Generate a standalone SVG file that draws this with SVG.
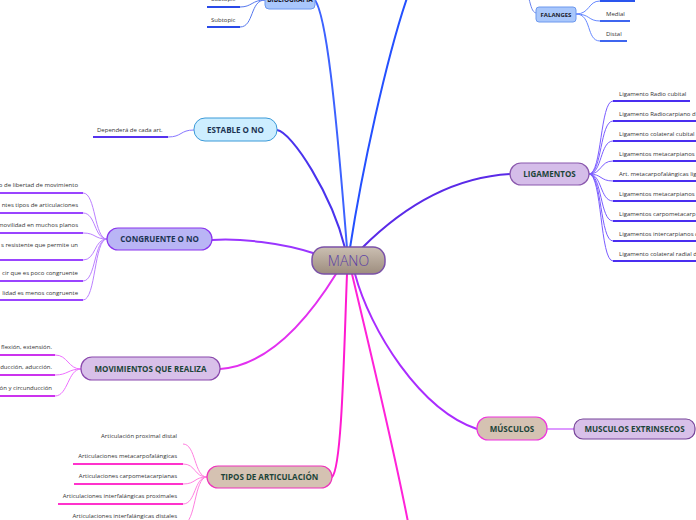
<svg xmlns="http://www.w3.org/2000/svg" width="696" height="520" viewBox="0 0 696 520">
<defs>
<linearGradient id="gMano" x1="0" y1="0" x2="0" y2="1">
<stop offset="0" stop-color="#cbbfb2"/>
<stop offset="1" stop-color="#9d8d7e"/>
</linearGradient>
<style>
.t{font-family:"Open Sans","Noto Sans",sans-serif;font-weight:bold;font-size:8px;fill:#1c4438;text-anchor:middle;stroke:none}
.tb{fill:#1c3452}
.c{font-family:"Open Sans","Noto Sans",sans-serif;font-size:6px;fill:#333;stroke:none}
.r{text-anchor:end}
.main{fill:none;stroke-width:2;stroke-linecap:round}
.sub{fill:none;stroke-width:1}
.ul{fill:none;stroke-width:1.8}
</style>
</defs>
<rect width="696" height="520" fill="#ffffff"/>

<g id="connectors">
<path class="main" stroke="#3d62ff" stroke-width="1.5" d="M313 -2 C326 6 336 110 347 248"/>
<path class="main" stroke="#2450ff" d="M350 248 C362 170 386 60 407 -2"/>
<path class="main" stroke="#4a33ee" d="M277 130 C292 132 332 195 345 248"/>
<path class="main" stroke="#5a2ae8" d="M362 248 C392 218 442 178 510 174"/>
<path class="main" stroke="#9a35ff" d="M313 253 C282 243 240 238 212 240"/>
<path class="main" stroke="#e230f0" d="M336 274 C300 332 262 366 220 369"/>
<path class="main" stroke="#ff1ad0" d="M347 274 C344 350 342 468 332 477"/>
<path class="main" stroke="#ff22d8" d="M352 274 C370 350 392 440 408 522"/>
<path class="main" stroke="#aa2cff" stroke-width="1.5" d="M355 274 C370 330 420 410 477 429"/>
<path class="main" stroke="#dd99ff" stroke-width="1.2" d="M547 429 L574 429"/>
<path class="sub" stroke="#6a84ee" d="M529 -1 C531 6 532 12 536 13"/>
<path class="sub" stroke="#5577ee" d="M265 0 C252 0 252 7 240 7"/>
<path class="sub" stroke="#5577ee" d="M265 0 C250 0 254 27 240 27"/>
<path class="sub" stroke="#6688ff" d="M576 14 C590 14 588 1 600 1"/>
<path class="sub" stroke="#6688ff" d="M576 14 C590 14 588 21 600 21"/>
<path class="sub" stroke="#6688ff" d="M576 14 C592 14 586 41 600 41"/>
<path class="sub" stroke="#8877ff" d="M194 130 C180 130 182 137 168 137"/>
<g stroke="#bb80ff" class="sub">
<path d="M107 239 C94 239 96 193 83 193"/>
<path d="M107 239 C94 239 96 213 83 213"/>
<path d="M107 239 C94 239 96 233 83 233"/>
<path d="M107 239 C94 239 96 260 83 260"/>
<path d="M107 239 C94 239 96 281 83 281"/>
<path d="M107 239 C94 239 96 300 83 300"/>
</g>
<g stroke="#7a5cff" class="sub">
<path d="M589 174 C602 174 600 101 613 101"/>
<path d="M589 174 C602 174 600 121 613 121"/>
<path d="M589 174 C602 174 600 141 613 141"/>
<path d="M589 174 C602 174 600 161 613 161"/>
<path d="M589 174 C602 174 600 181 613 181"/>
<path d="M589 174 C602 174 600 201 613 201"/>
<path d="M589 174 C602 174 600 221 613 221"/>
<path d="M589 174 C602 174 600 241 613 241"/>
<path d="M589 174 C602 174 600 261 613 261"/>
</g>
<g stroke="#ee70ff" class="sub">
<path d="M81 369 C68 369 68 355 55 355"/>
<path d="M81 369 C68 369 68 375 55 375"/>
<path d="M81 369 C68 369 68 396 55 396"/>
</g>
<g stroke="#ff80e0" class="sub">
<path d="M207 477 C194 477 196 444 183 444"/>
<path d="M207 477 C194 477 196 464 183 464"/>
<path d="M207 477 C194 477 196 484 183 484"/>
<path d="M207 477 C194 477 196 504 183 504"/>
<path d="M207 477 C194 477 196 524 183 524"/>
</g>
</g>

<g id="mano">
<rect x="312" y="247" width="73" height="27" rx="12" fill="url(#gMano)" stroke="#7b52a8" stroke-width="1.5"/>
<text x="348.5" y="265.5" font-family="'Open Sans','Noto Sans',sans-serif" font-size="14" font-weight="300" fill="#5b3fa6" text-anchor="middle">MANO</text>
</g>

<g id="bibliografia">
<rect x="265" y="-14" width="50" height="23" rx="4" fill="#a9c7fb" stroke="#6c98ee" stroke-width="1"/>
<text class="t" x="290" y="2" style="fill:#1a1a2a;font-size:6.5px">BIBLIOGRAFÍA</text>
<text class="c" x="211" y="1">Subtopic</text>
<line class="ul" stroke="#2a4ae8" x1="207" y1="7" x2="240" y2="7"/>
<text class="c" x="211" y="22">Subtopic</text>
<line class="ul" stroke="#2a4ae8" x1="207" y1="27" x2="240" y2="27"/>
</g>

<g id="falanges">
<rect x="536" y="7" width="40" height="15" rx="3" fill="#a9c7fb" stroke="#6c98ee" stroke-width="1"/>
<text class="t" x="556" y="17" style="fill:#1a1a2a;font-size:6px">FALANGES</text>
<line class="ul" stroke="#2a55ee" x1="600" y1="1" x2="635" y2="1"/>
<text class="c" x="606" y="16">Medial</text>
<line class="ul" stroke="#2a55ee" x1="600" y1="21" x2="630" y2="21"/>
<text class="c" x="606" y="36">Distal</text>
<line class="ul" stroke="#2a55ee" x1="600" y1="41" x2="627" y2="41"/>
</g>

<g id="estable">
<rect x="194" y="118" width="83" height="23" rx="11" fill="#cdeeff" stroke="#3b9ad8" stroke-width="1"/>
<text class="t tb" x="235.5" y="133">ESTABLE O NO</text>
<text class="c" x="97" y="132">Dependerá de cada art.</text>
<line class="ul" stroke="#5533ee" x1="93" y1="137" x2="168" y2="137"/>
</g>

<g id="congruente">
<rect x="107" y="228" width="105" height="22" rx="11" fill="#b9b5f5" stroke="#8a35ee" stroke-width="1.2"/>
<text class="t tb" x="159.5" y="242">CONGRUENTE O NO</text>
<text class="c r" x="78" y="187">o de libertad de movimiento</text>
<line class="ul" stroke="#9a44ff" x1="0" y1="193" x2="83" y2="193"/>
<text class="c r" x="78" y="207">ntes tipos de articulaciones</text>
<line class="ul" stroke="#9a44ff" x1="0" y1="213" x2="83" y2="213"/>
<text class="c r" x="78" y="227">movilidad en muchos planos</text>
<line class="ul" stroke="#9a44ff" x1="0" y1="233" x2="83" y2="233"/>
<text class="c r" x="78" y="247">s resistente que permite un</text>
<line class="ul" stroke="#9a44ff" x1="0" y1="260" x2="83" y2="260"/>
<text class="c r" x="78" y="275">cir que es poco congruente</text>
<line class="ul" stroke="#9a44ff" x1="0" y1="281" x2="83" y2="281"/>
<text class="c r" x="78" y="295">lidad es menos congruente</text>
<line class="ul" stroke="#9a44ff" x1="0" y1="300" x2="83" y2="300"/>
</g>

<g id="ligamentos">
<rect x="510" y="163" width="79" height="22" rx="11" fill="#d5bde9" stroke="#8a58ad" stroke-width="1.2"/>
<text class="t" x="549.5" y="177">LIGAMENTOS</text>
<text class="c" x="619" y="96">Ligamento Radio cubital</text>
<line class="ul" stroke="#4a2ef0" x1="613" y1="101" x2="690" y2="101"/>
<text class="c" x="619" y="116">Ligamento Radiocarpiano d</text>
<line class="ul" stroke="#4a2ef0" x1="613" y1="121" x2="696" y2="121"/>
<text class="c" x="619" y="136">Ligamento colateral cubital</text>
<line class="ul" stroke="#4a2ef0" x1="613" y1="141" x2="696" y2="141"/>
<text class="c" x="619" y="156">Ligamentos metacarpianos</text>
<line class="ul" stroke="#4a2ef0" x1="613" y1="161" x2="696" y2="161"/>
<text class="c" x="619" y="176">Art. metacarpofalángicas lig</text>
<line class="ul" stroke="#4a2ef0" x1="613" y1="181" x2="696" y2="181"/>
<text class="c" x="619" y="196">Ligamentos metacarpianos</text>
<line class="ul" stroke="#4a2ef0" x1="613" y1="201" x2="696" y2="201"/>
<text class="c" x="619" y="216">Ligamentos carpometacarp</text>
<line class="ul" stroke="#4a2ef0" x1="613" y1="221" x2="696" y2="221"/>
<text class="c" x="619" y="236">Ligamentos intercarpianos d</text>
<line class="ul" stroke="#4a2ef0" x1="613" y1="241" x2="696" y2="241"/>
<text class="c" x="619" y="256">Ligamento colateral radial d</text>
<line class="ul" stroke="#4a2ef0" x1="613" y1="261" x2="696" y2="261"/>
</g>

<g id="movimientos">
<rect x="81" y="357" width="139" height="23" rx="11" fill="#d8c0e9" stroke="#8a48ad" stroke-width="1.2"/>
<text class="t" x="150.5" y="371.5">MOVIMIENTOS QUE REALIZA</text>
<text class="c r" x="52" y="349">flexión, extensión.</text>
<line class="ul" stroke="#cc33ee" x1="0" y1="355" x2="55" y2="355"/>
<text class="c r" x="52" y="369">ducción, aducción.</text>
<line class="ul" stroke="#cc33ee" x1="0" y1="375" x2="55" y2="375"/>
<text class="c r" x="52" y="390">ón y circunducción</text>
<line class="ul" stroke="#cc33ee" x1="0" y1="396" x2="55" y2="396"/>
</g>

<g id="tipos">
<rect x="207" y="466" width="125" height="22" rx="11" fill="#d5c2b2" stroke="#ee33bb" stroke-width="1.2"/>
<text class="t" x="269.5" y="480">TIPOS DE ARTICULACIÓN</text>
<text class="c r" x="177" y="438">Articulación proximal distal</text>
<text class="c r" x="177" y="458">Articulaciones metacarpofalángicas</text>
<line class="ul" stroke="#ff33cc" x1="73" y1="464" x2="183" y2="464"/>
<text class="c r" x="177" y="478">Articulaciones carpometacarpianas</text>
<line class="ul" stroke="#ff33cc" x1="74" y1="484" x2="183" y2="484"/>
<text class="c r" x="177" y="498">Articulaciones interfalángicas proximales</text>
<line class="ul" stroke="#ff33cc" x1="58" y1="504" x2="183" y2="504"/>
<text class="c r" x="177" y="518">Articulaciones interfalángicas distales</text>
</g>

<g id="musculos">
<rect x="477" y="417" width="70" height="23" rx="11" fill="#d5c2b2" stroke="#ee33dd" stroke-width="1.2"/>
<text class="t" x="512" y="431.5">MÚSCULOS</text>
</g>

<g id="extrinsecos">
<rect x="574" y="419" width="121" height="20" rx="9" fill="#d8c0e9" stroke="#774499" stroke-width="1.2"/>
<text class="t" x="634.5" y="432">MUSCULOS EXTRINSECOS</text>
</g>
</svg>
